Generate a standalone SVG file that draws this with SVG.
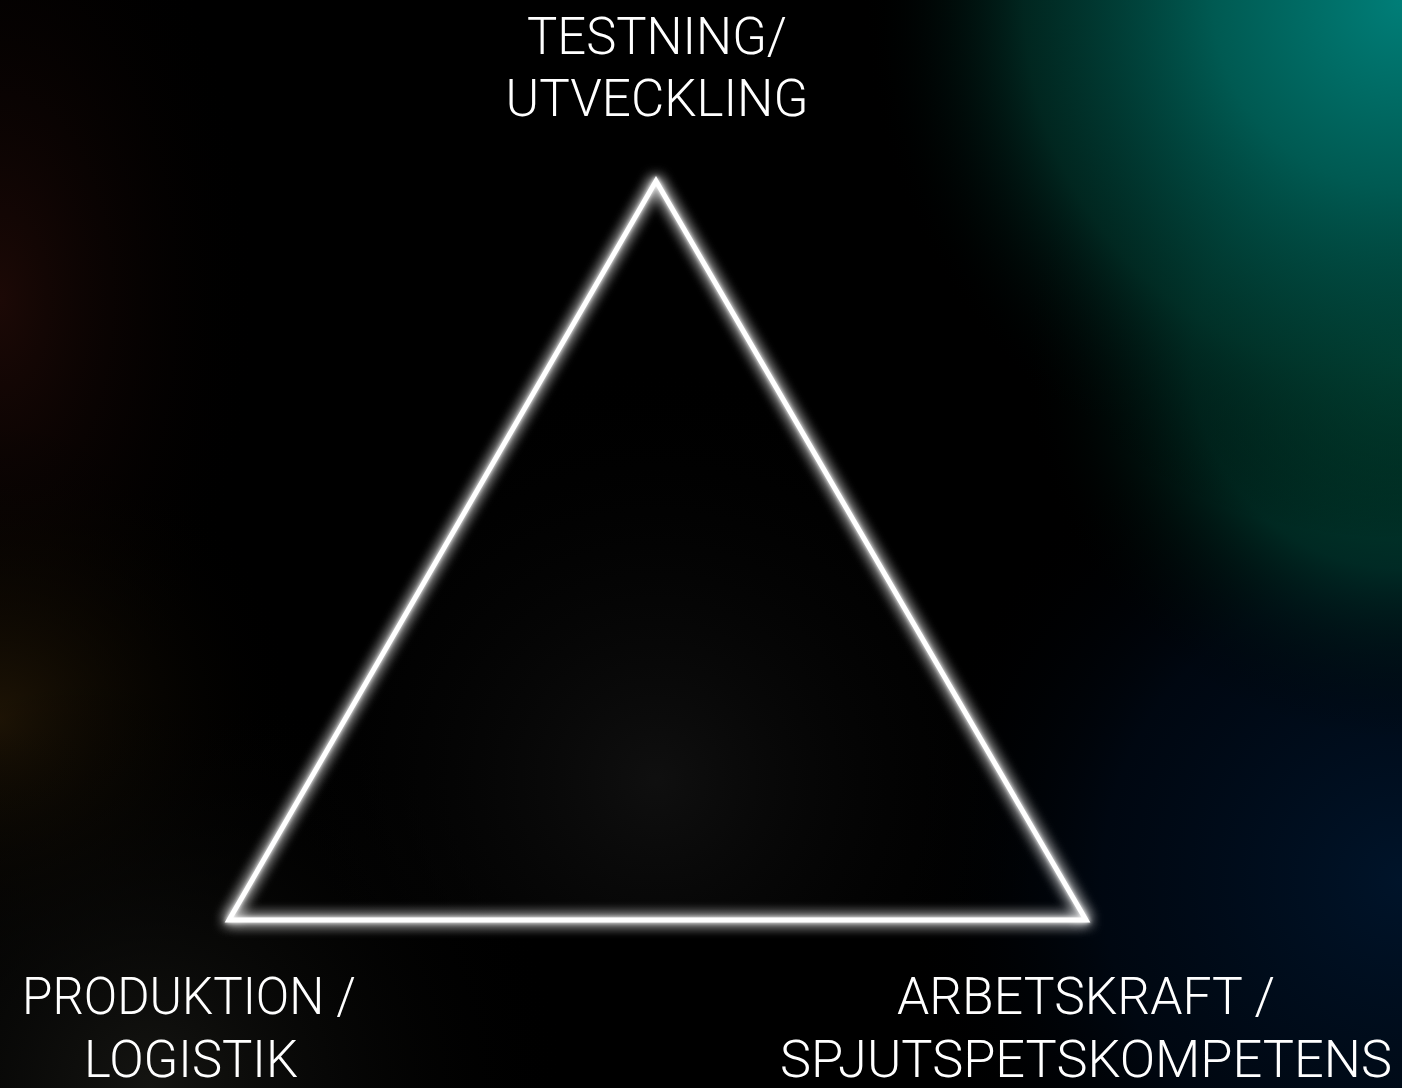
<svg xmlns="http://www.w3.org/2000/svg" width="1402" height="1088" viewBox="0 0 1402 1088">
  <defs>
    <radialGradient id="gTeal" cx="1402" cy="0" r="540" gradientUnits="userSpaceOnUse">
      <stop offset="0" stop-color="#007e78"/>
      <stop offset="0.35" stop-color="#005a52"/>
      <stop offset="0.7" stop-color="#01332a" stop-opacity="0.75"/>
      <stop offset="1" stop-color="#000" stop-opacity="0"/>
    </radialGradient>
    <radialGradient id="gGreen" cx="1402" cy="360" r="380" gradientUnits="userSpaceOnUse">
      <stop offset="0" stop-color="#00573f"/>
      <stop offset="0.55" stop-color="#003d30" stop-opacity="0.65"/>
      <stop offset="1" stop-color="#000" stop-opacity="0"/>
    </radialGradient>
    <radialGradient id="gNavy" cx="1402" cy="880" r="500" gradientUnits="userSpaceOnUse">
      <stop offset="0" stop-color="#00142a"/>
      <stop offset="0.6" stop-color="#000a18" stop-opacity="0.7"/>
      <stop offset="1" stop-color="#000" stop-opacity="0"/>
    </radialGradient>
    <radialGradient id="gRed" cx="0" cy="300" r="1" gradientTransform="translate(0 300) scale(260 480) translate(0 -300)" gradientUnits="userSpaceOnUse">
      <stop offset="0" stop-color="#1c0906"/>
      <stop offset="1" stop-color="#000" stop-opacity="0"/>
    </radialGradient>
    <radialGradient id="gBrown" cx="0" cy="720" r="300" gradientUnits="userSpaceOnUse">
      <stop offset="0" stop-color="#1e1405"/>
      <stop offset="1" stop-color="#000" stop-opacity="0"/>
    </radialGradient>
    <radialGradient id="gGrayBL" cx="150" cy="1088" r="420" gradientUnits="userSpaceOnUse">
      <stop offset="0" stop-color="#151512"/>
      <stop offset="1" stop-color="#000" stop-opacity="0"/>
    </radialGradient>
    <radialGradient id="gInner" cx="656" cy="780" r="420" gradientUnits="userSpaceOnUse">
      <stop offset="0" stop-color="#111"/>
      <stop offset="1" stop-color="#000" stop-opacity="0"/>
    </radialGradient>
    <filter id="glow" x="-20%" y="-20%" width="140%" height="140%">
      <feGaussianBlur in="SourceGraphic" stdDeviation="7" result="b1"/>
      <feGaussianBlur in="SourceGraphic" stdDeviation="2" result="b2"/>
      <feMerge>
        <feMergeNode in="b1"/>
        <feMergeNode in="b1"/>
        <feMergeNode in="b2"/>
        <feMergeNode in="SourceGraphic"/>
      </feMerge>
    </filter>
  </defs>
  <style>
    .lbl { font-family: Roboto, "Liberation Sans", sans-serif; font-weight: 300; font-size: 52px; fill: #ffffff; text-anchor: middle; }
    .tri { fill: none; stroke: #ffffff; stroke-width: 5; stroke-linejoin: miter; }
  </style>

  <g id="background">
    <rect x="0" y="0" width="1402" height="1088" fill="#000"/>
    <rect x="0" y="0" width="1402" height="1088" fill="url(#gRed)"/>
    <rect x="0" y="0" width="1402" height="1088" fill="url(#gBrown)"/>
    <rect x="0" y="0" width="1402" height="1088" fill="url(#gGrayBL)"/>
    <rect x="0" y="0" width="1402" height="1088" fill="url(#gNavy)"/>
    <rect x="0" y="0" width="1402" height="1088" fill="url(#gGreen)"/>
    <rect x="0" y="0" width="1402" height="1088" fill="url(#gTeal)"/>
  </g>

  <g id="triangle">
    <polygon points="656,181 229,920 1086,920" fill="url(#gInner)" opacity="0.9"/>
    <polygon class="tri" points="656,181 229,920 1086,920" filter="url(#glow)"/>
  </g>

  <g id="connectors"></g>

  <g id="node-top">
    <text class="lbl" x="657" y="54" textLength="260" lengthAdjust="spacingAndGlyphs">TESTNING/</text>
    <text class="lbl" x="657" y="116" textLength="303" lengthAdjust="spacingAndGlyphs">UTVECKLING</text>
  </g>
  <g id="node-left">
    <text class="lbl" x="189" y="1014" textLength="334" lengthAdjust="spacingAndGlyphs">PRODUKTION /</text>
    <text class="lbl" x="191" y="1077" textLength="214" lengthAdjust="spacingAndGlyphs">LOGISTIK</text>
  </g>
  <g id="node-right">
    <text class="lbl" x="1086" y="1014" textLength="378" lengthAdjust="spacingAndGlyphs">ARBETSKRAFT /</text>
    <text class="lbl" x="1086" y="1077" textLength="612" lengthAdjust="spacingAndGlyphs">SPJUTSPETSKOMPETENS</text>
  </g>
</svg>
